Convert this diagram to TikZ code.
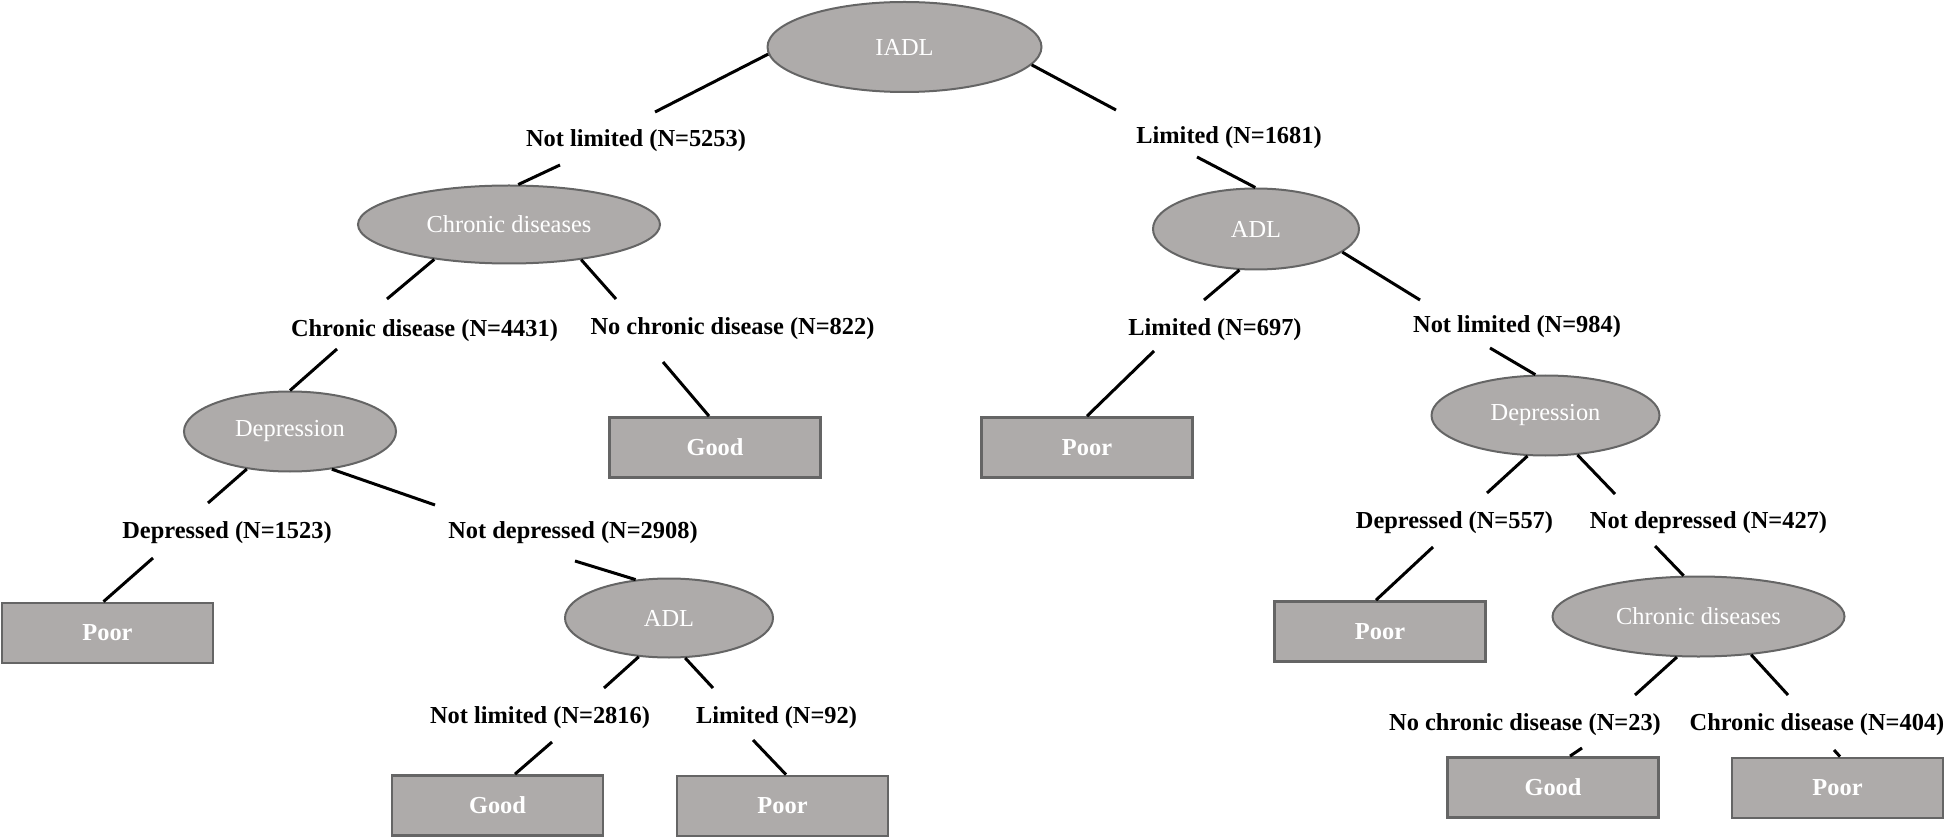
\documentclass[tikz,border=0pt]{standalone}
\usepackage{fontspec}
\setmainfont{Liberation Serif}
\usetikzlibrary{shapes.geometric}
\definecolor{nodefill}{HTML}{AEABAA}
\definecolor{nodeline}{HTML}{656565}
\begin{document}
\begin{tikzpicture}[x=0.5pt,y=-0.5pt,
  every node/.style={font=\fontsize{12.2}{14}\selectfont},
  oval/.style={ellipse, draw=nodeline, line width=1pt, fill=nodefill, text=white, inner sep=0pt},
  leaf/.style={rectangle, draw=nodeline, line width=1.4pt, fill=nodefill, text=white,
    font=\fontsize{12.2}{14}\selectfont\bfseries, minimum width=105.5pt, minimum height=30pt, inner sep=0pt},
  lab/.style={font=\fontsize{12.2}{14}\selectfont\bfseries, text=black, inner sep=0pt, yshift=-1.5pt},
  conn/.style={line width=1.5pt, black}]
\useasboundingbox (0,0) rectangle (1947,839);

% decision nodes
\node[oval, minimum width=137pt, minimum height=45pt] (IADL) at (904.5,47) {IADL};
\node[oval, minimum width=151pt, minimum height=39pt] (ChrL) at (509,224.5) {Chronic diseases};
\node[oval, minimum width=103pt, minimum height=40.5pt] (ADLR) at (1256,229) {ADL};
\node[oval, minimum width=106pt, minimum height=40pt] (DepL) at (290,431.5) {Depression};
\node[oval, minimum width=114pt, minimum height=40pt] (DepR) at (1545.5,415.5) {Depression};
\node[oval, minimum width=104pt, minimum height=39.5pt] (ADLM) at (669,618) {ADL};
\node[oval, minimum width=146pt, minimum height=40pt] (ChrR) at (1698.5,616.5) {Chronic diseases};

% outcome boxes
\node[leaf] (Good1) at (715,447.5) {Good};
\node[leaf] (Poor1) at (1087,447.5) {Poor};
\node[leaf] (Poor2) at (107.5,633) {Poor};
\node[leaf] (Poor3) at (1380,631.5) {Poor};
\node[leaf] (Good2) at (497.5,805.5) {Good};
\node[leaf] (Poor4) at (782.5,806) {Poor};
\node[leaf] (Good3) at (1553,787.5) {Good};
\node[leaf] (Poor5) at (1837.5,788) {Poor};

% branch labels
\node[lab] (L1) at (636,138) {Not limited (N=5253)};
\node[lab] (L2) at (1229,135) {Limited (N=1681)};
\node[lab] (L3) at (424.5,328) {Chronic disease (N=4431)};
\node[lab] (L4) at (732.5,326) {No chronic disease (N=822)};
\node[lab] (L5) at (1215,327) {Limited (N=697)};
\node[lab] (L6) at (1517,324) {Not limited (N=984)};
\node[lab] (L7) at (227,530) {Depressed (N=1523)};
\node[lab] (L8) at (573,530) {Not depressed (N=2908)};
\node[lab] (L9) at (1454.5,520) {Depressed (N=557)};
\node[lab] (L10) at (1708.5,520) {Not depressed (N=427)};
\node[lab] (L11) at (540,715) {Not limited (N=2816)};
\node[lab] (L12) at (776.5,715) {Limited (N=92)};
\node[lab] (L13) at (1525,722) {No chronic disease (N=23)};
\node[lab] (L14) at (1817,722) {Chronic disease (N=404)};

% free ends of the connector pieces (next to the labels)
\coordinate (a1) at (655,112);   \coordinate (b1) at (560,165);
\coordinate (a2) at (1116,110);  \coordinate (b2) at (1197,157);
\coordinate (a3) at (387,299);   \coordinate (b3) at (337,349);
\coordinate (a4) at (616,299);   \coordinate (b4) at (663,362);
\coordinate (a5) at (1204,300);  \coordinate (b5) at (1154,351);
\coordinate (a6) at (1420,300);  \coordinate (b6) at (1490,348);
\coordinate (a7) at (208,503);   \coordinate (b7) at (153,558);
\coordinate (a8) at (435,505);   \coordinate (b8) at (575,561);
\coordinate (a9) at (1487,493);  \coordinate (b9) at (1433,547);
\coordinate (a10) at (1615,494); \coordinate (b10) at (1655,546);
\coordinate (a11) at (604,688);  \coordinate (b11) at (552,742);
\coordinate (a12) at (713,688);  \coordinate (b12) at (753,740);
\coordinate (a13) at (1635,695); \coordinate (b13) at (1582,748);
\coordinate (a14) at (1788,695); \coordinate (b14) at (1834,750);

% connectors
\draw[conn] (IADL.183) -- (a1);  \draw[conn] (b1) -- (ChrL.77);
\draw[conn] (IADL.352) -- (a2);  \draw[conn] (b2) -- (ADLR.91);
\draw[conn] (ChrL.205) -- (a3);  \draw[conn] (b3) -- (DepL.90);
\draw[conn] (ChrL.334) -- (a4);  \draw[conn] (b4) -- ([xshift=-3pt]Good1.north);
\draw[conn] (ADLR.248) -- (a5);  \draw[conn] (b5) -- (Poor1.north);
\draw[conn] (ADLR.345.5) -- (a6); \draw[conn] (b6) -- (DepR.104.5);
\draw[conn] (DepL.221.8) -- (a7); \draw[conn] (b7) -- ([xshift=-2pt]Poor2.north);
\draw[conn] (DepL.318.9) -- (a8); \draw[conn] (b8) -- (ADLM.131.8);
\draw[conn] (DepR.246) -- (a9);  \draw[conn] (b9) -- ([xshift=-2pt]Poor3.north);
\draw[conn] (DepR.309.7) -- (a10); \draw[conn] (b10) -- (ChrR.110.9);
\draw[conn] (ADLM.232.2) -- (a11); \draw[conn] (b11) -- ([xshift=8.75pt]Good2.north);
\draw[conn] (ADLM.292) -- (a12); \draw[conn] (b12) -- ([xshift=1.75pt]Poor4.north);
\draw[conn] (ChrR.242) -- (a13); \draw[conn] (b13) -- ([xshift=8.5pt]Good3.north);
\draw[conn] (ChrR.324.8) -- (a14); \draw[conn] (b14) -- ([xshift=1.25pt]Poor5.north);
\end{tikzpicture}
\end{document}
